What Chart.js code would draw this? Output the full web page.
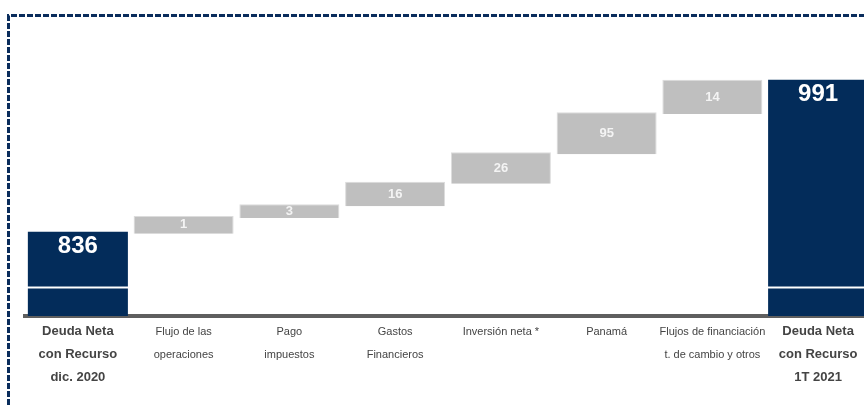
<!DOCTYPE html>
<html>
<head>
<meta charset="utf-8">
<script src="https://cdn.jsdelivr.net/npm/chart.js@4/dist/chart.umd.min.js"></script>
<style>
  html, body { margin: 0; padding: 0; background: #ffffff; overflow: hidden; }
  #wrap { position: absolute; left: 0; top: 0; width: 872px; height: 405px; }
</style>
</head>
<body>
<div id="wrap"><canvas id="myChart"></canvas></div>
<script>
// Categories (x axis)
const categories = [
	['Deuda Neta', 'con Recurso', 'dic. 2020'],
	['Flujo de las', 'operaciones'],
	['Pago', 'impuestos'],
	['Gastos', 'Financieros'],
	['Inversión neta *'],
	['Panamá'],
	['Flujos de financiación', 't. de cambio y otros'],
	['Deuda Neta', 'con Recurso', '1T 2021']
];

// Values printed on the bars
const values = [836, 1, 3, 16, 26, 95, 14, 991];
const isTotal = [true, false, false, false, false, false, false, true];

// The original is not drawn to scale, so the bar ends are read off the picture (axis units)
const drawnLow  = [750, 834, 850, 862, 885, 915, 956, 750];
const drawnHigh = [836, 852, 864, 887, 917, 958, 991, 991];

// axis break cut through the total bars
const breakLow = 778;
const breakHigh = 780;

const navy = '#032c5a';
const grey = '#bfbfbf';

let totalsLower = drawnLow.map((v, i) => isTotal[i] ? [v, breakLow] : null);
let totalsUpper = drawnHigh.map((v, i) => isTotal[i] ? [breakHigh, v] : null);
let steps = drawnLow.map((v, i) => isTotal[i] ? null : [v, drawnHigh[i]]);

// dashed frame round the slide
const framePlugin = {
	id: 'frame',
	beforeDraw(chart) {
		const ctx = chart.ctx;
		ctx.save();
		ctx.strokeStyle = '#0a2d5c';
		ctx.lineWidth = 3;
		ctx.setLineDash([6, 2]);
		ctx.beginPath();
		ctx.moveTo(8.5, chart.height);
		ctx.lineTo(8.5, 15.5);
		ctx.lineTo(chart.width, 15.5);
		ctx.stroke();
		ctx.restore();
	}
};

// value labels inside the bars
const valuePlugin = {
	id: 'values',
	afterDatasetsDraw(chart) {
		const ctx = chart.ctx;
		ctx.save();
		ctx.textAlign = 'center';
		ctx.textBaseline = 'middle';
		chart.getDatasetMeta(1).data.forEach((bar, i) => {
			if (!isTotal[i]) return;
			ctx.fillStyle = '#ffffff';
			ctx.font = 'bold 24px "Liberation Sans", Arial, sans-serif';
			ctx.fillText(values[i], bar.x, bar.y + 15);
		});
		chart.getDatasetMeta(2).data.forEach((bar, i) => {
			if (isTotal[i]) return;
			ctx.fillStyle = '#f4f4f4';
			ctx.font = 'bold 13px "Liberation Sans", Arial, sans-serif';
			ctx.fillText(values[i], bar.x, (bar.y + bar.base) / 2);
		});
		ctx.restore();
	}
};

const myChart = document.getElementById('myChart');

let waterfall = new Chart(myChart, {
	type: 'bar',
	data: {
		labels: categories,
		datasets: [
			{ label: 'total', data: totalsLower, backgroundColor: navy, borderWidth: 0 },
			{ label: 'total', data: totalsUpper, backgroundColor: navy, borderWidth: 0 },
			{ label: 'paso', data: steps, backgroundColor: grey, borderColor: '#dcdcdc', borderWidth: 1 }
		]
	},
	options: {
		responsive: true,
		maintainAspectRatio: false,
		animation: false,
		layout: { padding: { left: 25, right: 1, top: 22, bottom: 0 } },
		datasets: {
			bar: { grouped: false, categoryPercentage: 1, barPercentage: 0.946 }
		},
		plugins: {
			legend: { display: false },
			tooltip: { enabled: false }
		},
		scales: {
			x: {
				z: 1,
				grid: { display: false, drawTicks: false },
				border: { display: true, color: '#5f5f5f', width: 4 },
				afterFit: (scale) => { scale.height = 89; },
				ticks: {
					padding: 4,
					maxRotation: 0,
					autoSkip: false,
					color: '#444444',
					font: (ctx) => isTotal[ctx.index]
						? { family: '"Liberation Sans", Arial, sans-serif', size: 13, weight: 'bold', lineHeight: '23px' }
						: { family: '"Liberation Sans", Arial, sans-serif', size: 11, lineHeight: '23px' }
				}
			},
			y: {
				display: false,
				min: 750,
				max: 1050
			}
		}
	},
	plugins: [framePlugin, valuePlugin]
});
</script>
</body>
</html>
